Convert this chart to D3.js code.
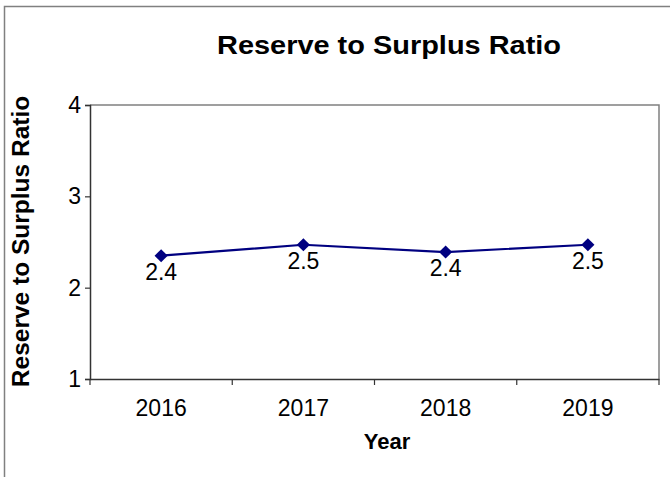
<!DOCTYPE html>
<html>
<head>
<meta charset="utf-8">
<script src="https://cdn.jsdelivr.net/npm/d3@7/dist/d3.min.js"></script>
<style>
  html, body { margin: 0; padding: 0; background: #fff; }
  svg { display: block; font-family: "Liberation Sans", Arial, sans-serif; }
</style>
</head>
<body>
<svg id="chart" width="670" height="477"></svg>
<script>
const years = ["2016", "2017", "2018", "2019"];
const ratios = [2.35, 2.47, 2.39, 2.47];
const ratioLabels = ["2.4", "2.5", "2.4", "2.5"];
const yTicks = [1, 2, 3, 4];
const chartTitle = "Reserve to Surplus Ratio";
const xTitle = "Year";
const yTitle = "Reserve to Surplus Ratio";

const svg = d3.select("#chart");
const plot = { left: 90, right: 659, top: 105, bottom: 379 };
const FONT = "Liberation Sans, Arial, sans-serif";

// outer frame
svg.append("rect")
  .attr("x", 4.5).attr("y", 6.5)
  .attr("width", 700).attr("height", 500)
  .attr("fill", "#fff").attr("stroke", "#808080").attr("stroke-width", 1.5);

const x = d3.scaleBand().domain(years).range([plot.left, plot.right]).padding(0);
const y = d3.scaleLinear().domain([1, 4]).range([plot.bottom, plot.top]);

// plot area border (top / right grey)
svg.append("path")
  .attr("d", `M${plot.left},${plot.top}H${plot.right}V${plot.bottom}`)
  .attr("fill", "none").attr("stroke", "#808080").attr("stroke-width", 1.5);

// y axis
const yAxis = svg.append("g")
  .attr("transform", `translate(${plot.left},0)`)
  .call(d3.axisLeft(y).tickValues(yTicks).tickFormat(d3.format("d")).tickSize(5).tickPadding(4));
yAxis.select(".domain").attr("stroke", "#333").attr("stroke-width", 1.5);
yAxis.selectAll(".tick line").attr("stroke", "#333").attr("stroke-width", 1.2);
yAxis.selectAll(".tick text").attr("font-size", 23).attr("fill", "#000").attr("font-family", FONT);

// x axis
const xAxis = svg.append("g")
  .attr("transform", `translate(0,${plot.bottom})`)
  .call(d3.axisBottom(x).tickSize(0).tickPadding(21));
xAxis.select(".domain").attr("stroke", "#333").attr("stroke-width", 1.5);
xAxis.selectAll(".tick text").attr("font-size", 23).attr("fill", "#000").attr("font-family", FONT);
// category boundary ticks
const bounds = years.map(d => x(d)).concat([x(years[years.length - 1]) + x.bandwidth()]);
svg.append("g").selectAll("line").data(bounds).join("line")
  .attr("x1", d => d).attr("x2", d => d)
  .attr("y1", plot.bottom).attr("y2", plot.bottom + 6)
  .attr("stroke", "#333").attr("stroke-width", 1.2);

// line
const cx = d => x(d) + x.bandwidth() / 2;
svg.append("path")
  .datum(years.map((d, i) => [cx(d), y(ratios[i])]))
  .attr("d", d3.line())
  .attr("fill", "none").attr("stroke", "#000080").attr("stroke-width", 2.2);

// markers
svg.append("g").selectAll("path").data(years).join("path")
  .attr("transform", (d, i) => `translate(${cx(d)},${y(ratios[i])})`)
  .attr("d", d3.symbol().type(d3.symbolDiamond2).size(110))
  .attr("fill", "#000080");

// data labels
svg.append("g").selectAll("text").data(years).join("text")
  .attr("x", d => cx(d))
  .attr("y", (d, i) => y(ratios[i]) + 24)
  .attr("text-anchor", "middle")
  .attr("font-size", 23)
  .attr("fill", "#000")
  .text((d, i) => ratioLabels[i]);

// title
svg.append("text")
  .attr("x", 389).attr("y", 54)
  .attr("text-anchor", "middle")
  .attr("font-size", 25).attr("font-weight", "bold")
  .attr("textLength", 344).attr("lengthAdjust", "spacingAndGlyphs")
  .text(chartTitle);

// x title
svg.append("text")
  .attr("x", 387).attr("y", 449)
  .attr("text-anchor", "middle")
  .attr("font-size", 22).attr("font-weight", "bold")
  .text(xTitle);

// y title
svg.append("text")
  .attr("transform", `translate(29,${(plot.top + plot.bottom) / 2 - 0.5}) rotate(-90)`)
  .attr("text-anchor", "middle")
  .attr("font-size", 24.5).attr("font-weight", "bold")
  .text(yTitle);
</script>
</body>
</html>
